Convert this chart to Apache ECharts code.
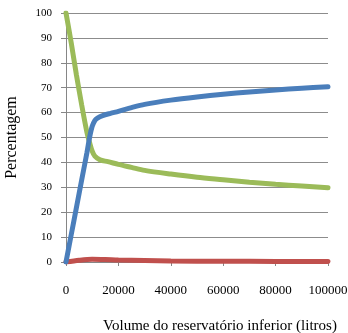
<!DOCTYPE html>
<html>
<head>
<meta charset="utf-8">
<script src="https://cdn.jsdelivr.net/npm/echarts@6/dist/echarts.min.js"></script>
<style>
    html, body { margin: 0; padding: 0; background: #fff; }
    #chart { width: 348px; height: 333px; }
</style>
</head>
<body>
<div id="chart"></div>
<script>
    // valores (volume em litros, percentagem)
    var volBlue = [0, 2000, 4000, 6000, 8000, 9000, 10000, 11000, 12000, 14000, 17000, 20000, 25000, 30000, 40000, 50000, 60000, 70000, 80000, 90000, 100000];
    var blueVals = [0, 11, 22, 33, 44, 50, 54.5, 56.8, 57.8, 58.8, 59.7, 60.5, 62, 63.3, 65, 66.3, 67.4, 68.3, 69.1, 69.8, 70.4];

    var volGreen = [0, 2000, 4000, 6000, 8000, 9000, 10000, 11000, 13000, 16000, 20000, 25000, 30000, 40000, 50000, 60000, 70000, 80000, 90000, 100000];
    var greenVals = [100, 88, 75, 63, 52, 48, 44.5, 42.5, 41, 40.3, 39.2, 38, 36.8, 35.3, 34, 33, 32, 31.2, 30.5, 29.8];

    var volRed = [0, 5000, 10000, 15000, 20000, 30000, 40000, 60000, 80000, 100000];
    var redVals = [0, 0.7, 1.1, 1.0, 0.8, 0.6, 0.4, 0.3, 0.25, 0.2];

    function pairs(xs, ys) {
        return xs.map(function (x, i) { return [x, ys[i]]; });
    }

    var chart = echarts.init(document.getElementById('chart'));
    var font = '"Liberation Serif", "Times New Roman", serif';
    var option = {
        animation: false,
        backgroundColor: '#fff',
        grid: { left: 66, right: 20, top: 13, bottom: 71, containLabel: false, outerBoundsMode: 'none' },
        xAxis: {
            type: 'value',
            min: 0, max: 100000, interval: 20000,
            name: 'Volume do reservatório inferior (litros)',
            nameLocation: 'middle',
            nameGap: 57,
            nameTextStyle: { fontFamily: font, fontSize: 15, color: '#000', padding: [0, 0, 0, 46] },
            axisLine: { show: true, lineStyle: { color: '#868686' } },
            axisTick: { show: true, inside: false, length: 4, lineStyle: { color: '#868686' } },
            axisLabel: { fontFamily: font, fontSize: 13, color: '#000', margin: 22, formatter: function (v) { return String(v); } },
            splitLine: { show: false }
        },
        yAxis: {
            type: 'value',
            min: 0, max: 100, interval: 10,
            name: 'Percentagem',
            nameLocation: 'middle',
            nameGap: 46,
            nameTextStyle: { fontFamily: font, fontSize: 16, color: '#000' },
            axisLine: { show: true, lineStyle: { color: '#868686' } },
            axisTick: { show: true, inside: false, length: 5, lineStyle: { color: '#868686' } },
            axisLabel: { fontFamily: font, fontSize: 11, color: '#000', margin: 14 },
            splitLine: { show: true, lineStyle: { color: '#8c8c8c', width: 1.2 } }
        },
        series: [
            {
                type: 'line', smooth: 0.3, showSymbol: false,
                data: pairs(volRed, redVals),
                lineStyle: { color: '#C0504D', width: 5, cap: 'round' }
            },
            {
                type: 'line', smooth: 0.3, showSymbol: false,
                data: pairs(volGreen, greenVals),
                lineStyle: { color: '#9BBB59', width: 5, cap: 'round' }
            },
            {
                type: 'line', smooth: 0.3, showSymbol: false,
                data: pairs(volBlue, blueVals),
                lineStyle: { color: '#4A7EBB', width: 5, cap: 'round' }
            }
        ]
    };
    chart.setOption(option);
</script>
</body>
</html>
